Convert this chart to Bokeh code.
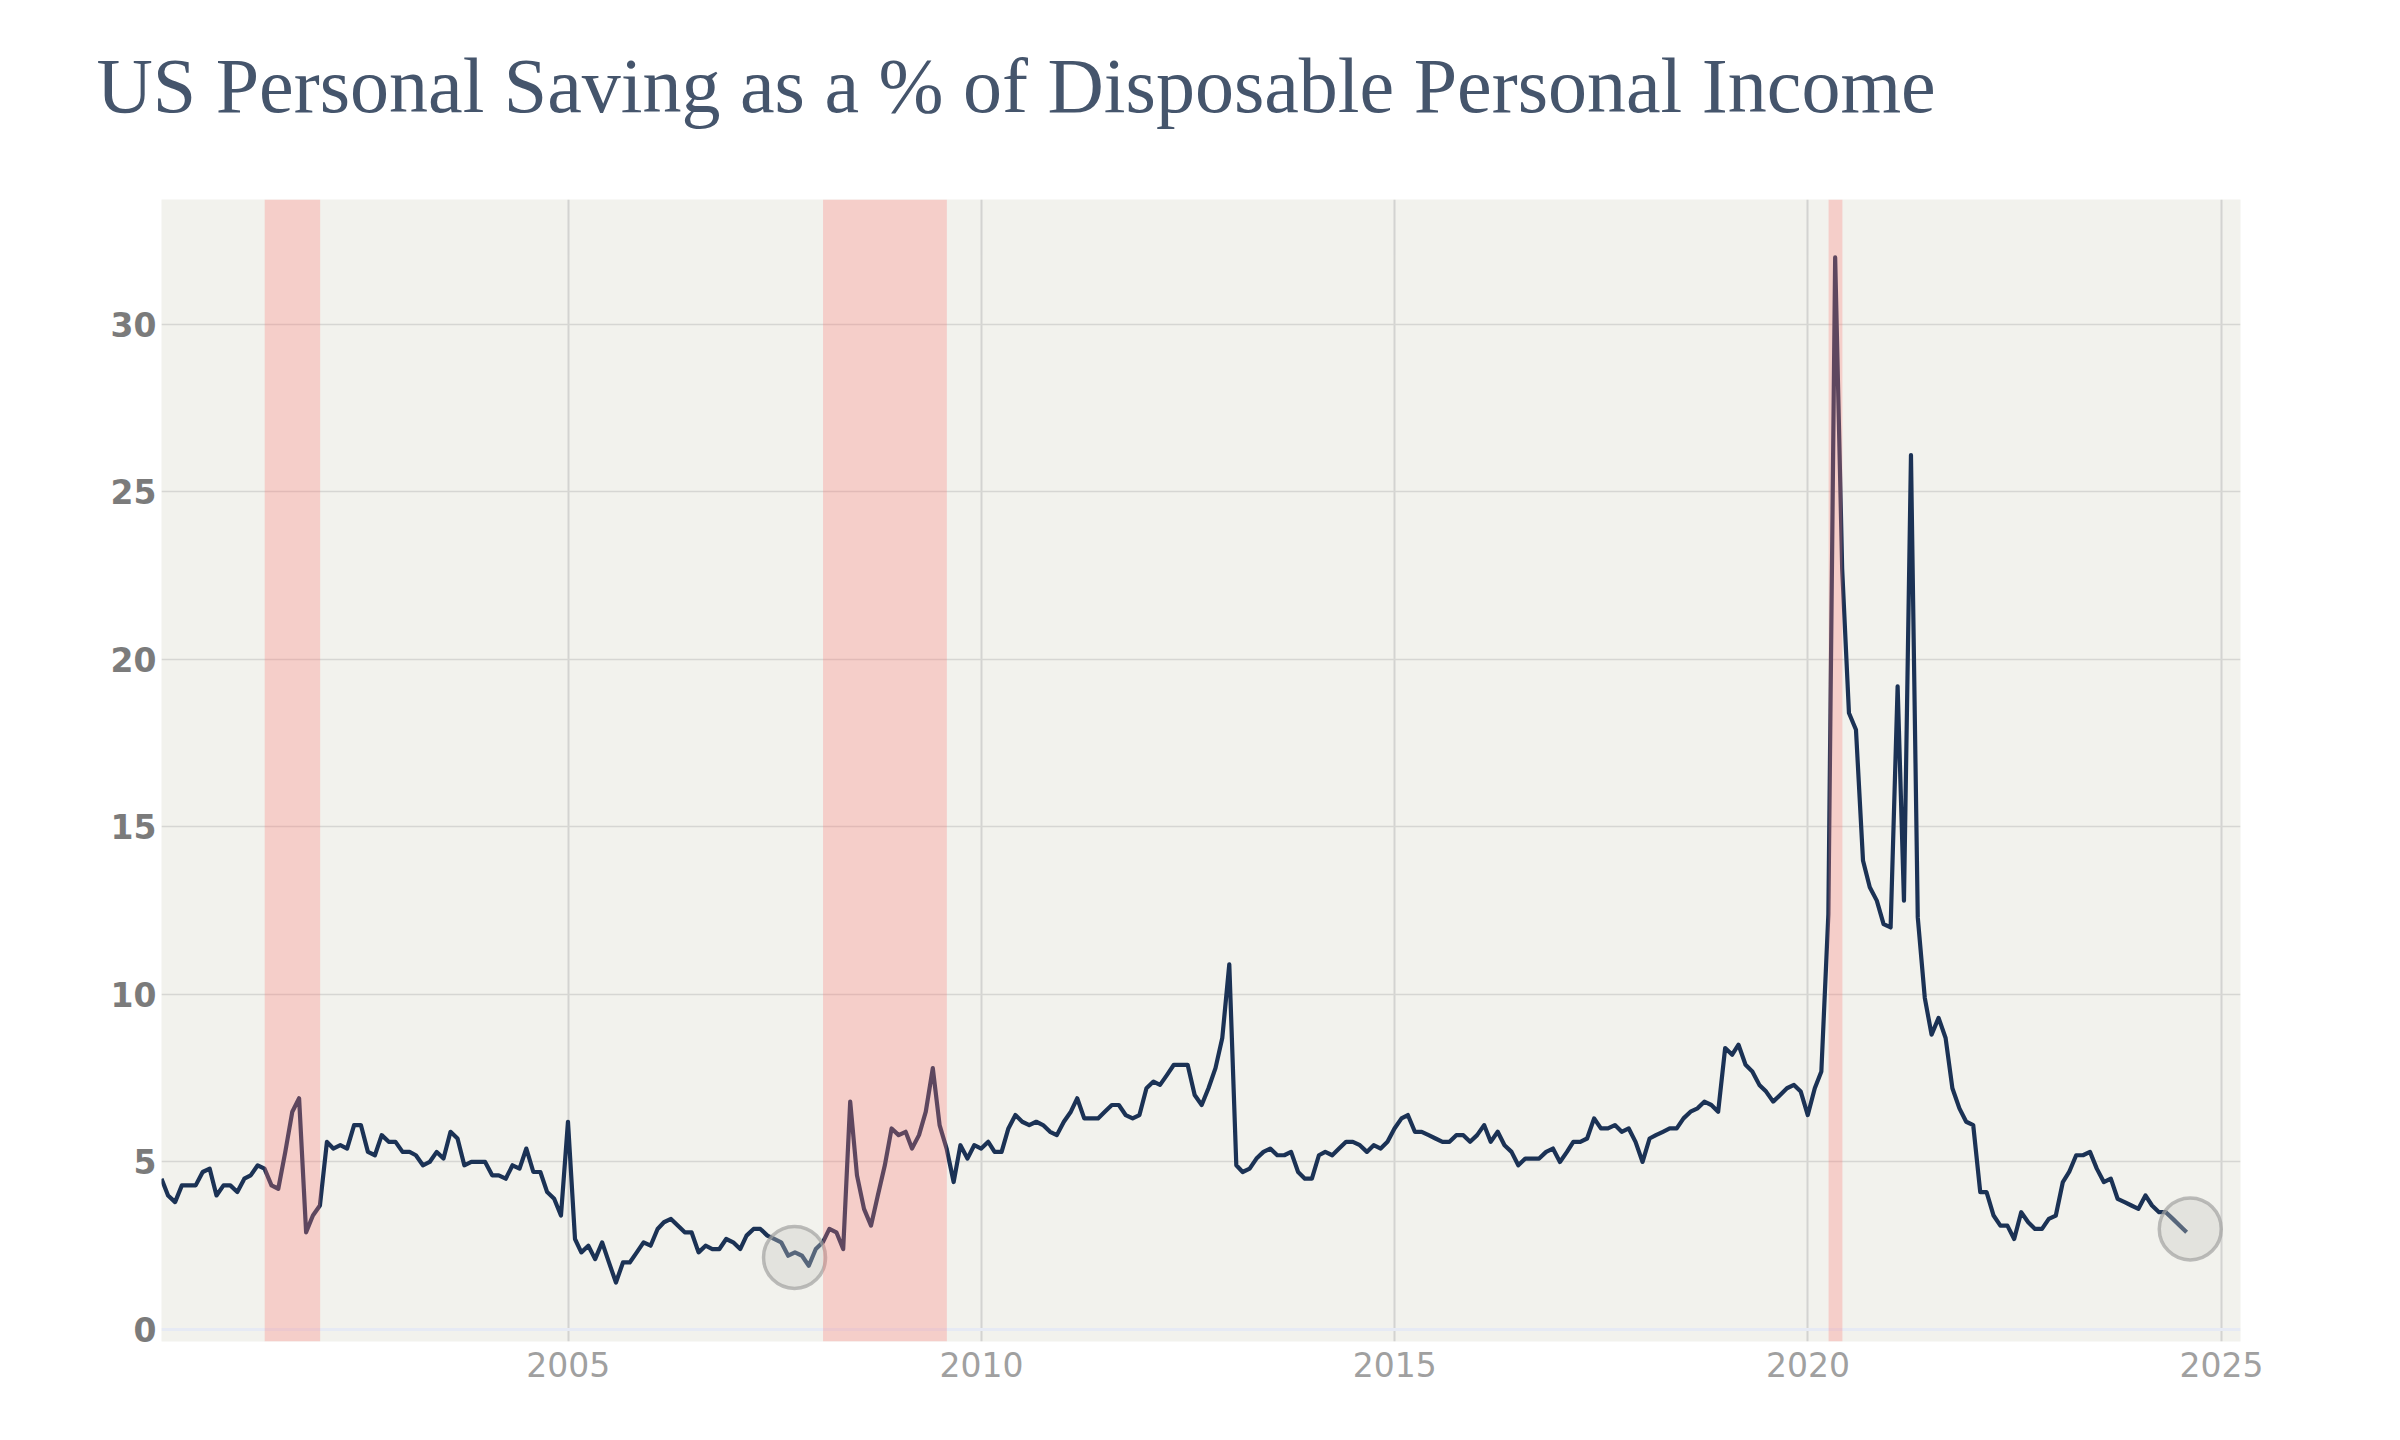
import pandas as pd
from bokeh.plotting import figure
from bokeh.models import Range1d, FixedTicker, DatetimeTickFormatter, BoxAnnotation, Span, Title
from bokeh.embed import file_html
from bokeh.resources import INLINE

# Monthly personal saving rate (%), Jan 2000 - Jul 2024
saving_rate = [
    4.5, 4.0, 3.8, 4.3, 4.3, 4.3, 4.7, 4.8, 4.0, 4.3, 4.3, 4.1,   # 2000
    4.5, 4.6, 4.9, 4.8, 4.3, 4.2, 5.3, 6.5, 6.9, 2.9, 3.4, 3.7,   # 2001
    5.6, 5.4, 5.5, 5.4, 6.1, 6.1, 5.3, 5.2, 5.8, 5.6, 5.6, 5.3,   # 2002
    5.3, 5.2, 4.9, 5.0, 5.3, 5.1, 5.9, 5.7, 4.9, 5.0, 5.0, 5.0,   # 2003
    4.6, 4.6, 4.5, 4.9, 4.8, 5.4, 4.7, 4.7, 4.1, 3.9, 3.4, 6.2,   # 2004
    2.7, 2.3, 2.5, 2.1, 2.6, 2.0, 1.4, 2.0, 2.0, 2.3, 2.6, 2.5,   # 2005
    3.0, 3.2, 3.3, 3.1, 2.9, 2.9, 2.3, 2.5, 2.4, 2.4, 2.7, 2.6,   # 2006
    2.4, 2.8, 3.0, 3.0, 2.8, 2.7, 2.6, 2.2, 2.3, 2.2, 1.9, 2.4,   # 2007
    2.6, 3.0, 2.9, 2.4, 6.8, 4.6, 3.6, 3.1, 4.0, 4.9, 6.0, 5.8,   # 2008
    5.9, 5.4, 5.8, 6.5, 7.8, 6.1, 5.4, 4.4, 5.5, 5.1, 5.5, 5.4,   # 2009
    5.6, 5.3, 5.3, 6.0, 6.4, 6.2, 6.1, 6.2, 6.1, 5.9, 5.8, 6.2,   # 2010
    6.5, 6.9, 6.3, 6.3, 6.3, 6.5, 6.7, 6.7, 6.4, 6.3, 6.4, 7.2,   # 2011
    7.4, 7.3, 7.6, 7.9, 7.9, 7.9, 7.0, 6.7, 7.2, 7.8, 8.7, 10.9,  # 2012
    4.9, 4.7, 4.8, 5.1, 5.3, 5.4, 5.2, 5.2, 5.3, 4.7, 4.5, 4.5,   # 2013
    5.2, 5.3, 5.2, 5.4, 5.6, 5.6, 5.5, 5.3, 5.5, 5.4, 5.6, 6.0,   # 2014
    6.3, 6.4, 5.9, 5.9, 5.8, 5.7, 5.6, 5.6, 5.8, 5.8, 5.6, 5.8,   # 2015
    6.1, 5.6, 5.9, 5.5, 5.3, 4.9, 5.1, 5.1, 5.1, 5.3, 5.4, 5.0,   # 2016
    5.3, 5.6, 5.6, 5.7, 6.3, 6.0, 6.0, 6.1, 5.9, 6.0, 5.6, 5.0,   # 2017
    5.7, 5.8, 5.9, 6.0, 6.0, 6.3, 6.5, 6.6, 6.8, 6.7, 6.5, 8.4,   # 2018
    8.2, 8.5, 7.9, 7.7, 7.3, 7.1, 6.8, 7.0, 7.2, 7.3, 7.1, 6.4,   # 2019
    7.2, 7.7, 12.4, 32.0, 22.7, 18.4, 17.9, 14.0, 13.2, 12.8, 12.1, 12.0,  # 2020
    19.2, 12.8, 26.1, 12.3, 9.9, 8.8, 9.3, 8.7, 7.2, 6.6, 6.2, 6.1,  # 2021
    4.1, 4.1, 3.4, 3.1, 3.1, 2.7, 3.5, 3.2, 3.0, 3.0, 3.3, 3.4,   # 2022
    4.4, 4.7, 5.2, 5.2, 5.3, 4.8, 4.4, 4.5, 3.9, 3.8, 3.7, 3.6,   # 2023
    4.0, 3.7, 3.5, 3.5, 3.3, 3.1, 2.9,                            # 2024
]
dates = pd.date_range("2000-01-01", periods=len(saving_rate), freq="MS") + pd.offsets.MonthEnd(0)

recession_start = ["2001-05-01", "2008-02-01", "2020-04-01"]
recession_end = ["2002-01-01", "2009-08-01", "2020-06-01"]

highlight_dates = ["2007-09-28", "2024-08-16"]
highlight_values = [2.15, 3.0]

tick_years = [2005, 2010, 2015, 2020, 2025]
y_ticks = [0, 5, 10, 15, 20, 25, 30]

title_text = "US Personal Saving as a % of Disposable Personal Income"


def ms(d):
    return pd.Timestamp(d).value / 1e6


p = figure(width=2384, height=1424, output_backend="svg", toolbar_location=None,
           x_axis_type="datetime", title=None,
           x_range=Range1d(ms("2000-01-31"), ms("2025-03-26")),
           y_range=Range1d(-0.36, 33.73),
           min_border_left=161, min_border_right=144, min_border_top=199, min_border_bottom=83)

# spacer between the frame and the title (nearest the frame)
spacer = Title(text=" ", text_font_size="2px", standoff=57, text_color="white")
p.add_layout(spacer, "above")
main_title = Title(text=title_text, text_font="Liberation Serif", text_font_size="78px",
                   text_font_style="normal", text_color="#45556c", align="left",
                   offset=-65, standoff=20)
p.add_layout(main_title, "above")

p.background_fill_color = "#f2f2ed"
p.border_fill_color = "white"
p.outline_line_color = None

# grid
p.xgrid.ticker = FixedTicker(ticks=[ms(f"{y}-01-01") for y in tick_years])
p.xgrid.grid_line_color = "#d3d3d1"
p.xgrid.grid_line_width = 2
p.ygrid.ticker = FixedTicker(ticks=y_ticks[1:])
p.ygrid.grid_line_color = "#d6d6d3"
p.ygrid.grid_line_width = 1.6

zero = Span(location=0, dimension="width", line_color="#e6eaf4", line_width=3, level="underlay")
p.add_layout(zero)

# axes
p.xaxis.ticker = FixedTicker(ticks=[ms(f"{y}-01-01") for y in tick_years])
p.xaxis.formatter = DatetimeTickFormatter(years="%Y", months="%Y", days="%Y", hours="%Y",
                                          minutes="%Y", seconds="%Y", milliseconds="%Y",
                                          microseconds="%Y", hourmin="%Y", minsec="%Y")
p.yaxis.ticker = FixedTicker(ticks=y_ticks)
for ax in (p.xaxis, p.yaxis):
    ax.axis_line_color = None
    ax.major_tick_line_color = None
    ax.minor_tick_line_color = None
    ax.major_tick_out = 0
    ax.major_tick_in = 0
    ax.minor_tick_out = 0

p.xaxis.major_label_text_font = "DejaVu Sans"
p.xaxis.major_label_text_font_size = "33px"
p.xaxis.major_label_text_color = "#a0a0a0"
p.xaxis.major_label_standoff = 10

p.yaxis.major_label_text_font = "DejaVu Sans"
p.yaxis.major_label_text_font_size = "33px"
p.yaxis.major_label_text_font_style = "bold"
p.yaxis.major_label_text_color = "#7b7b7b"
p.yaxis.major_label_standoff = 5

p.line(dates, saving_rate, line_color="#1b3255", line_width=4.2, line_join="round")

for s, e in zip(recession_start, recession_end):
    p.add_layout(BoxAnnotation(left=ms(s), right=ms(e), fill_color="#fb7977", fill_alpha=0.3,
                               line_color=None))

p.scatter(pd.to_datetime(highlight_dates), highlight_values, marker="circle", size=62,
          fill_color="#c8c8c4", fill_alpha=0.35, line_color="#a3a3a1", line_alpha=0.7, line_width=3.5)

open("out.html", "w").write(file_html(p, INLINE))
